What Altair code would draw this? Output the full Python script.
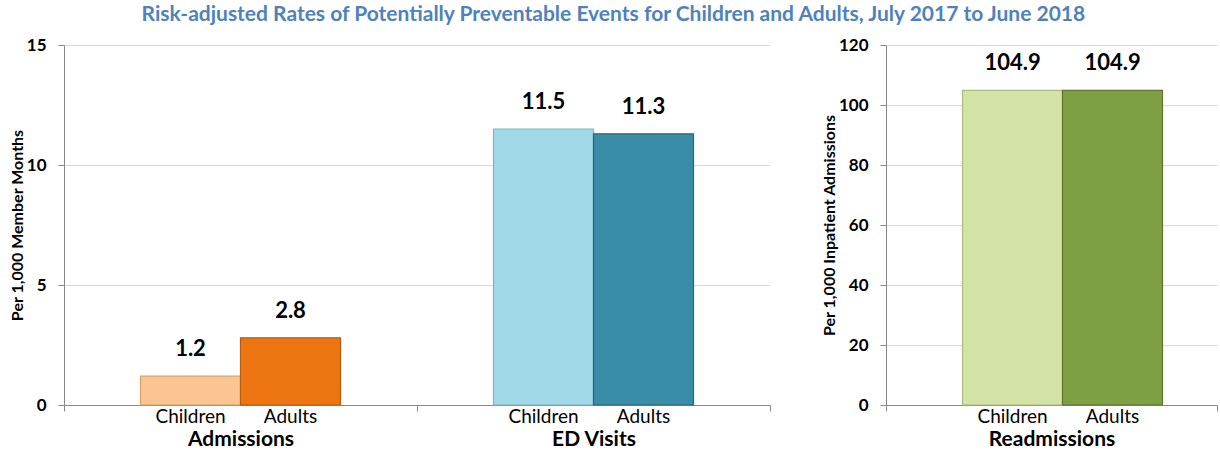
import altair as alt
import pandas as pd

groups = ["Children", "Adults"]
left_categories = ["Admissions", "Admissions", "ED Visits", "ED Visits"]
left_groups = ["Children", "Adults", "Children", "Adults"]
left_values = [1.2, 2.8, 11.5, 11.3]
left_colors = ["#FAC591", "#EE7612", "#A2D9E9", "#3A8DA7"]
left_strokes = ["#D9A26A", "#B65A0C", "#7DB5C6", "#24687E"]

right_categories = ["Readmissions", "Readmissions"]
right_groups = ["Children", "Adults"]
right_values = [104.9, 104.9]
right_colors = ["#D2E3A5", "#7F9F45"]
right_strokes = ["#A9BC7C", "#5A7530"]

title_text = "Risk-adjusted Rates of Potentially Preventable Events for Children and Adults, July 2017 to June 2018"
FONT = "Lato"

left_df = pd.DataFrame({
    "category": left_categories,
    "group": left_groups,
    "value": left_values,
    "key": [c + " " + g for c, g in zip(left_categories, left_groups)],
    "label": [f"{v:.1f}" for v in left_values],
})
right_df = pd.DataFrame({
    "category": right_categories,
    "group": right_groups,
    "value": right_values,
    "key": [c + " " + g for c, g in zip(right_categories, right_groups)],
    "label": [f"{v:.1f}" for v in right_values],
})

H = 360


def panel(df, colors, strokes, width, ymax, ystep, ytitle, pad_outer):
    keys = list(df["key"])
    x = alt.X("category:N", sort=list(dict.fromkeys(df["category"])),
              scale=alt.Scale(paddingInner=0, paddingOuter=0),
              axis=alt.Axis(title=None, labelAngle=0, labelFontSize=21, labelFont=FONT,
                            labelFontWeight="bold", labelColor="black", labelPadding=17,
                            tickBand="extent", tickColor="#888888", domainColor="#888888",
                            tickSize=6, labelBaseline="top"))
    xo = alt.XOffset("group:N", sort=groups,
                     scale=alt.Scale(paddingInner=0, paddingOuter=pad_outer))
    y = alt.Y("value:Q", scale=alt.Scale(domain=[0, ymax], nice=False),
              axis=alt.Axis(title=ytitle, values=list(range(0, ymax + 1, ystep)),
                            labelFontSize=17, labelFont=FONT, labelFontWeight="bold",
                            labelColor="black", titleFontSize=16, titleFont=FONT,
                            titleFontWeight="bold", titleColor="black",
                            gridColor="#D9D9D9", domainColor="#888888", tickColor="#888888",
                            tickSize=6, labelPadding=12, titlePadding=1))
    base = alt.Chart(df)
    bars = base.mark_bar(strokeWidth=1.2).encode(
        x=x, xOffset=xo, y=y,
        color=alt.Color("key:N", scale=alt.Scale(domain=keys, range=colors), legend=None),
        stroke=alt.Stroke("key:N", scale=alt.Scale(domain=keys, range=strokes), legend=None),
    )
    labels = base.mark_text(font=FONT, fontSize=22, fontWeight="bold", color="black",
                            baseline="bottom", dy=-15).encode(
        x=x, xOffset=xo, y=y, text="label:N")
    groups_txt = base.mark_text(font=FONT, fontSize=19, color="black", baseline="middle").encode(
        x=x, xOffset=xo, y=alt.value(H + 12), text="group:N")
    return alt.layer(bars, labels, groups_txt).properties(width=width, height=H)


left = panel(left_df, left_colors, left_strokes, 706, 15, 5, "Per 1,000 Member Months", 0.765)
right = panel(right_df, right_colors, right_strokes, 331, 120, 20, "Per 1,000 Inpatient Admissions", 0.724)

chart = alt.hconcat(left, right, spacing=50).properties(
    title=alt.TitleParams(title_text, font=FONT, fontSize=21, fontWeight="bold",
                          color="#4F81BD", anchor="middle", offset=11),
    padding={"left": 9, "right": 0, "top": 4, "bottom": 0},
).configure_view(stroke=None).resolve_scale(color="independent", stroke="independent")

chart.save("out.html", embed_options={"renderer": "svg", "actions": False})
